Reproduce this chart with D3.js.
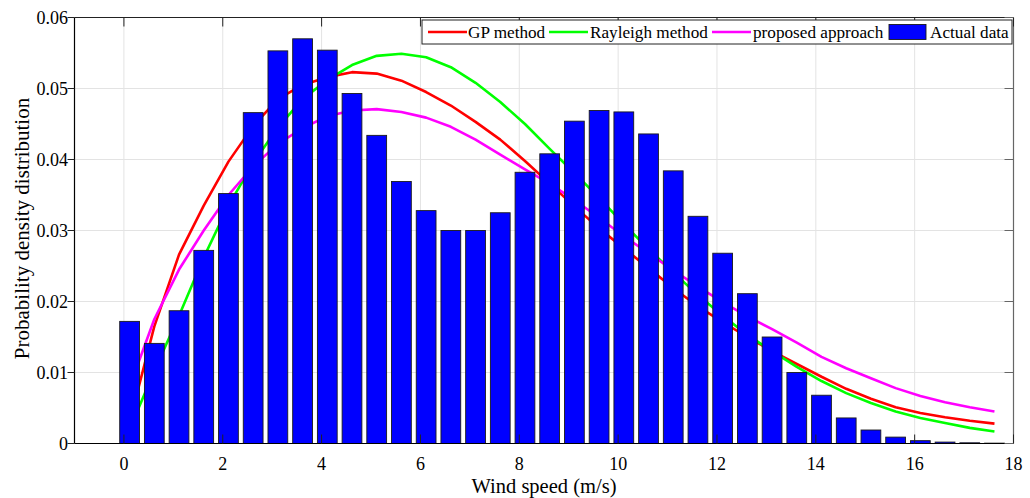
<!DOCTYPE html>
<html>
<head>
<meta charset="utf-8">
<script src="https://cdn.jsdelivr.net/npm/d3@7/dist/d3.min.js"></script>
<style>
  html, body { margin: 0; padding: 0; background: #fff; }
  svg { display: block; }
  text { font-family: "Liberation Serif", "Times New Roman", serif; fill: #000; }
</style>
</head>
<body>
<svg id="chart" width="1030" height="498"></svg>
<script>
// ---- data ----
const windSpeed = [0.115, 0.615, 1.115, 1.615, 2.115, 2.615, 3.115, 3.615, 4.115, 4.615,
  5.115, 5.615, 6.115, 6.615, 7.115, 7.615, 8.115, 8.615, 9.115, 9.615,
  10.115, 10.615, 11.115, 11.615, 12.115, 12.615, 13.115, 13.615, 14.115, 14.615,
  15.115, 15.615, 16.115, 16.615, 17.115, 17.615];
const actualData = [0.0172, 0.0141, 0.0187, 0.0272, 0.0352, 0.0466, 0.0553, 0.0570, 0.0554, 0.0493,
  0.0434, 0.0369, 0.0328, 0.0300, 0.0300, 0.0325, 0.0382, 0.0408, 0.0454, 0.0469,
  0.0467, 0.0436, 0.0384, 0.0320, 0.0268, 0.0211, 0.0150, 0.0100, 0.0068, 0.0036,
  0.0019, 0.0009, 0.0004, 0.0002, 0.0001, 0.00005];
const gpMethod = [0.0030, 0.0165, 0.0266, 0.0335, 0.0397, 0.0447, 0.0485, 0.0505, 0.0516, 0.0523,
  0.0521, 0.0511, 0.0495, 0.0476, 0.0453, 0.0428, 0.0398, 0.0366, 0.0334, 0.0303,
  0.0275, 0.0247, 0.0219, 0.0193, 0.0171, 0.0150, 0.0130, 0.0112, 0.0094, 0.0077,
  0.0063, 0.0051, 0.0043, 0.0037, 0.0032, 0.0028];
const rayleighMethod = [0.0020, 0.0102, 0.0180, 0.0262, 0.0335, 0.0395, 0.0445, 0.0485, 0.0512, 0.0533,
  0.0546, 0.0549, 0.0544, 0.0530, 0.0508, 0.0481, 0.0450, 0.0415, 0.0381, 0.0346,
  0.0309, 0.0274, 0.0241, 0.0209, 0.0180, 0.0153, 0.0130, 0.0108, 0.0088, 0.0071,
  0.0057, 0.0045, 0.0036, 0.0029, 0.0022, 0.0017];
const proposedApproach = [0.0080, 0.0175, 0.0245, 0.0300, 0.0350, 0.0390, 0.0422, 0.0444, 0.0461, 0.0469,
  0.0471, 0.0467, 0.0459, 0.0446, 0.0428, 0.0407, 0.0386, 0.0366, 0.0343, 0.0318,
  0.0292, 0.0268, 0.0244, 0.0221, 0.0199, 0.0179, 0.0161, 0.0142, 0.0122, 0.0106,
  0.0092, 0.0078, 0.0067, 0.0058, 0.0051, 0.0045];
const xTicks = [0, 2, 4, 6, 8, 10, 12, 14, 16, 18];
const yTicks = [0, 0.01, 0.02, 0.03, 0.04, 0.05, 0.06];
const yTickLabels = ["0", "0.01", "0.02", "0.03", "0.04", "0.05", "0.06"];
const seriesNames = ["GP method", "Rayleigh method", "proposed approach", "Actual data"];
const xLabel = "Wind speed (m/s)";
const yLabel = "Probability density distribution";

// ---- layout ----
const L = 74.5, R = 1013.5, T = 17.5, B = 443.5;
const x = d3.scaleLinear().domain([-1, 18]).range([L, R]);
const y = d3.scaleLinear().domain([0, 0.06]).range([B, T]);
const svg = d3.select("#chart");

// grid
const grid = svg.append("g");
grid.selectAll(".vg").data(xTicks).enter().append("line")
  .attr("x1", d => x(d)).attr("x2", d => x(d)).attr("y1", T).attr("y2", B)
  .attr("stroke", "#e3e3e3").attr("stroke-width", 1);
grid.selectAll(".hg").data(yTicks).enter().append("line")
  .attr("x1", L).attr("x2", R).attr("y1", d => y(d)).attr("y2", d => y(d))
  .attr("stroke", "#e3e3e3").attr("stroke-width", 1);

// curves (drawn beneath bars)
const line = d3.line().x((d, i) => x(windSpeed[i])).y(d => y(d));
const curves = [
  { vals: gpMethod, color: "#ff0000" },
  { vals: rayleighMethod, color: "#00ff00" },
  { vals: proposedApproach, color: "#ff00ff" }
];
curves.forEach(c => {
  svg.append("path").datum(c.vals).attr("d", line)
    .attr("fill", "none").attr("stroke", c.color).attr("stroke-width", 2.6)
    .attr("stroke-linejoin", "round");
});

// bars
const barW = x(0.4) - x(0);
svg.append("g").selectAll("rect").data(actualData).enter().append("rect")
  .attr("x", (d, i) => x(windSpeed[i]) - barW / 2)
  .attr("width", barW)
  .attr("y", d => y(d))
  .attr("height", d => B - y(d))
  .attr("fill", "#0000ff").attr("stroke", "#1a1a1a").attr("stroke-width", 0.9);

// axes box
const ax = svg.append("g");
ax.append("line").attr("x1", L).attr("x2", R).attr("y1", T).attr("y2", T).attr("stroke", "#222").attr("stroke-width", 1.2);
ax.append("line").attr("x1", L).attr("x2", R).attr("y1", B).attr("y2", B).attr("stroke", "#000").attr("stroke-width", 1.2);
ax.append("line").attr("x1", L).attr("x2", L).attr("y1", T).attr("y2", B).attr("stroke", "#000").attr("stroke-width", 1.2);
ax.append("line").attr("x1", R).attr("x2", R).attr("y1", T).attr("y2", B).attr("stroke", "#666").attr("stroke-width", 1.2);

// ticks
const tk = 9;
xTicks.forEach(t => {
  ax.append("line").attr("x1", x(t)).attr("x2", x(t)).attr("y1", B).attr("y2", B - tk).attr("stroke", "#222");
  ax.append("line").attr("x1", x(t)).attr("x2", x(t)).attr("y1", T).attr("y2", T + tk).attr("stroke", "#222");
});
yTicks.forEach(t => {
  ax.append("line").attr("x1", L).attr("x2", L - 7).attr("y1", y(t)).attr("y2", y(t)).attr("stroke", "#222");
  ax.append("line").attr("x1", R).attr("x2", R - tk).attr("y1", y(t)).attr("y2", y(t)).attr("stroke", "#666");
});

// tick labels
svg.append("g").selectAll("text").data(xTicks).enter().append("text")
  .attr("x", d => x(d)).attr("y", 470).attr("text-anchor", "middle")
  .attr("font-size", 18).text(d => d);
svg.append("g").selectAll("text").data(yTicks).enter().append("text")
  .attr("x", 68).attr("y", d => y(d) + 6).attr("text-anchor", "end")
  .attr("font-size", 18).text((d, i) => yTickLabels[i]);

// axis labels
svg.append("text").attr("x", (L + R) / 2).attr("y", 493).attr("text-anchor", "middle")
  .attr("font-size", 20.5).text(xLabel);
svg.append("text").attr("transform", `translate(29,${(T + B) / 2 - 2}) rotate(-90)`)
  .attr("text-anchor", "middle").attr("font-size", 21).text(yLabel);

// legend
const lg = svg.append("g");
const lgL = 422, lgR = 1012, lgT = 20, lgB = 44;
lg.append("rect").attr("x", lgL).attr("y", lgT).attr("width", lgR - lgL).attr("height", lgB - lgT)
  .attr("fill", "#fff").attr("stroke", "#222").attr("stroke-width", 1);
const items = [
  { name: seriesNames[0], color: "#ff0000", type: "line", sx: 428, tx: 468 },
  { name: seriesNames[1], color: "#00ff00", type: "line", sx: 549, tx: 590 },
  { name: seriesNames[2], color: "#ff00ff", type: "line", sx: 712, tx: 753 },
  { name: seriesNames[3], color: "#0000ff", type: "rect", sx: 889, tx: 930 }
];
const lgMid = (lgT + lgB) / 2;
items.forEach(it => {
  if (it.type === "line") {
    lg.append("line").attr("x1", it.sx).attr("x2", it.sx + 39).attr("y1", lgMid).attr("y2", lgMid)
      .attr("stroke", it.color).attr("stroke-width", 2.6);
  } else {
    lg.append("rect").attr("x", it.sx).attr("y", lgMid - 7.5).attr("width", 37).attr("height", 15)
      .attr("fill", it.color).attr("stroke", "#1a1a1a").attr("stroke-width", 0.9);
  }
  lg.append("text").attr("x", it.tx).attr("y", lgMid + 5.5).attr("font-size", 17.2).text(it.name);
});
</script>
</body>
</html>
